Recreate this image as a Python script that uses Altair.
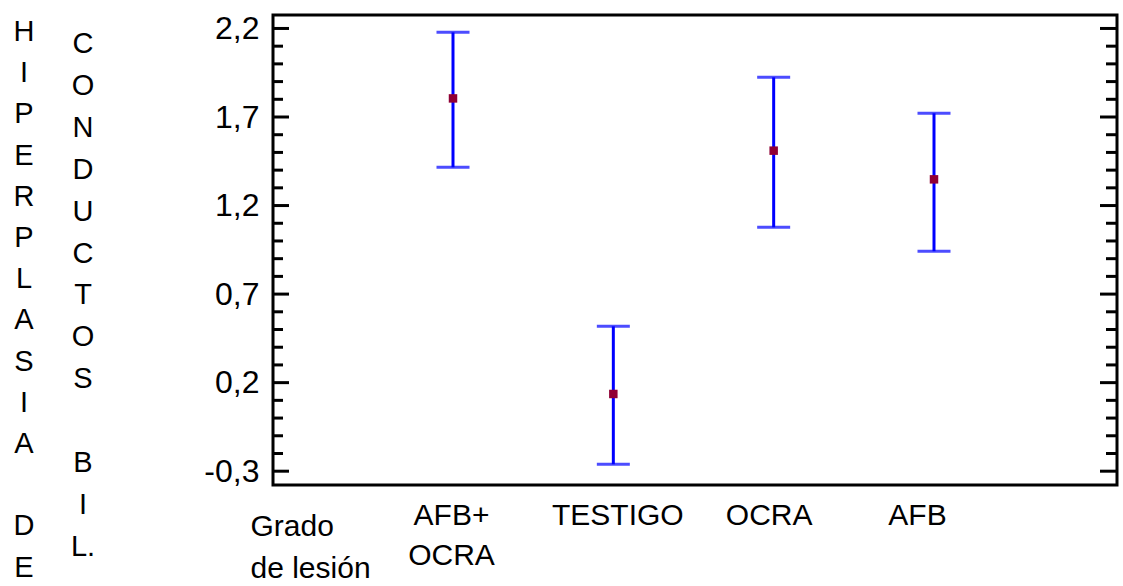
import altair as alt
import pandas as pd

# ---- data ----
categories = ["AFB+ OCRA", "TESTIGO", "OCRA", "AFB"]
means = [1.805, 0.136, 1.510, 1.348]
lower = [1.416, -0.261, 1.077, 0.942]
upper = [2.178, 0.518, 1.924, 1.721]

y_major = [-0.3, 0.2, 0.7, 1.2, 1.7, 2.2]
y_minor = [-0.2, -0.1, 0.0, 0.1, 0.3, 0.4, 0.5, 0.6, 0.8, 0.9, 1.0, 1.1,
           1.3, 1.4, 1.5, 1.6, 1.8, 1.9, 2.0, 2.1]

title_col1 = ["H", "I", "P", "E", "R", "P", "L", "A", "S", "I", "A", "", "D", "E"]
title_col2 = ["C", "O", "N", "D", "U", "C", "T", "O", "S", "", "B", "I", "L."]
x_title = ["Grado", "de lesión"]

# horizontal nudges of the category labels (style)
label_nudges = [-2, 4, -5, -17]

FONT = "Liberation Sans"
W, H = 844, 470

df = pd.DataFrame({"cat": categories, "mean": means, "low": lower, "high": upper})
major_df = pd.DataFrame({"v": y_major})
minor_df = pd.DataFrame({"v": y_minor})

yscale = alt.Scale(domain=[-0.378, 2.276], nice=False, zero=False)
xscale = alt.Scale(type="point", domain=categories, padding=0, range=[180, 661])

yaxis = alt.Axis(
    title=None, values=y_major, domain=False, ticks=False, grid=False,
    labelExpr="replace(replace(format(datum.value, '.1f'), '.', ','), '\u2212', '-')",
    labelFont=FONT, labelFontSize=32, labelColor="black", labelPadding=14,
    labelBaseline="middle",
)
xaxis = alt.Axis(
    title=x_title, domain=False, ticks=False, grid=False, labelAngle=0,
    labelExpr="split(datum.value, ' ')",
    labelOffset={
        "condition": [
            {"test": f"datum.value === '{c}'", "value": n}
            for c, n in zip(categories, label_nudges)
        ],
        "value": 0,
    },
    labelFont=FONT, labelFontSize=30, labelColor="black", labelPadding=15,
    labelLineHeight=40, labelBaseline="top",
    titleFont=FONT, titleFontSize=30, titleFontWeight="normal", titleColor="black",
    titleAlign="left", titleBaseline="top", titleX=-23, titleY=26,
    titleLineHeight=42, titleAngle=0,
)

X = alt.X("cat:N", scale=xscale, axis=xaxis, sort=categories)

bars = alt.Chart(df).mark_rule(color="#0000FF", strokeWidth=3).encode(
    x=X,
    y=alt.Y("low:Q", scale=yscale, axis=yaxis),
    y2="high:Q",
)
cap_lo = alt.Chart(df).mark_tick(color="#0000FF", thickness=3, size=33, orient="horizontal").encode(
    x=X, y=alt.Y("low:Q", scale=yscale, axis=yaxis)
)
cap_hi = alt.Chart(df).mark_tick(color="#0000FF", thickness=3, size=33, orient="horizontal").encode(
    x=X, y=alt.Y("high:Q", scale=yscale, axis=yaxis)
)
pts = alt.Chart(df).mark_square(color="#900035", size=72, opacity=1).encode(
    x=X, y=alt.Y("mean:Q", scale=yscale, axis=yaxis)
)

def tick_layer(d, x0, x1):
    return alt.Chart(d).mark_rule(color="black", strokeWidth=3).encode(
        y=alt.Y("v:Q", scale=yscale, axis=yaxis),
        x=alt.value(x0), x2=alt.value(x1),
    )

ticks = [
    tick_layer(major_df, 0, 16),
    tick_layer(minor_df, 0, 10),
    tick_layer(major_df, W - 17, W),
    tick_layer(minor_df, W - 11, W),
]

def letter_column(letters, x, y0, lh):
    """Stacked letters; blank entries leave an empty line."""
    layers = []
    seg, start = [], 0
    for i, ch in enumerate(letters + [""]):
        if ch == "":
            if seg:
                d = pd.DataFrame({"t": ["\n".join(seg)]})
                layers.append(
                    alt.Chart(d).mark_text(
                        font=FONT, fontSize=29, color="black", align="center",
                        baseline="top", lineBreak="\n", lineHeight=lh,
                    ).encode(text="t:N", x=alt.value(x), y=alt.value(y0 + start * lh))
                )
            seg, start = [], i + 1
        else:
            seg.append(ch)
    return layers

texts = letter_column(title_col1, -249, 3, 41.2) + letter_column(title_col2, -190, 15, 41.9)

chart = alt.layer(*ticks, bars, cap_lo, cap_hi, pts, *texts).properties(
    width=W, height=H,
    autosize=alt.AutoSizeParams(type="none"),
    padding={"left": 273, "top": 15, "right": 6, "bottom": 101},
    background="white",
).configure_view(stroke="black", strokeWidth=3)

chart.save("out.html", embed_options={"renderer": "svg", "actions": False})
